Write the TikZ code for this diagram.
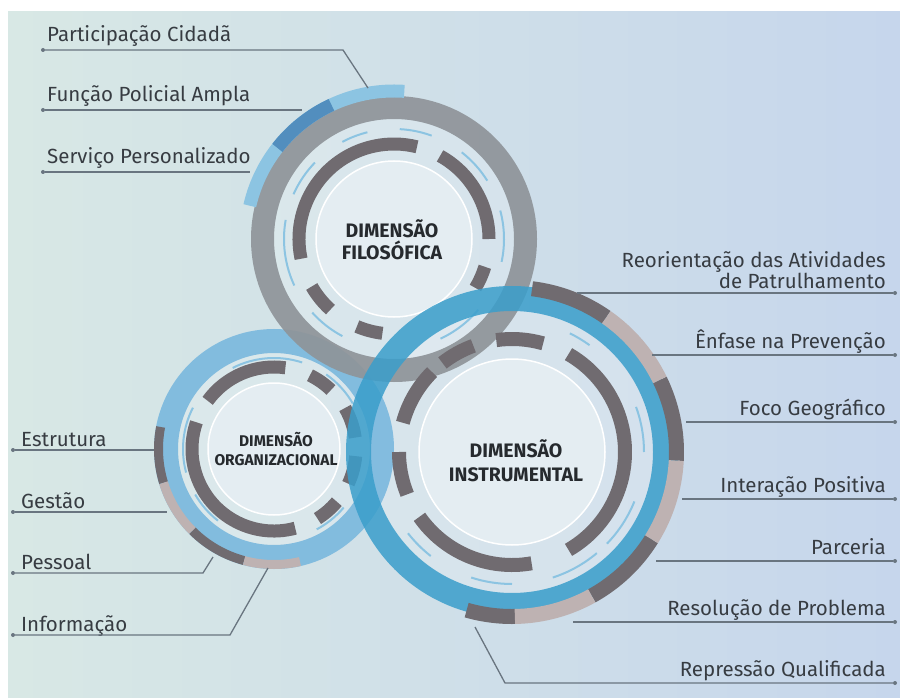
\documentclass[tikz,border=0pt]{standalone}
\usepackage{fontspec}
\setmainfont{Fira Sans}
\usetikzlibrary{positioning}

\definecolor{bgleft}{RGB}{216,232,229}
\definecolor{bgright}{RGB}{198,214,236}
\definecolor{ringgray}{RGB}{143,148,153}
\definecolor{seggray}{RGB}{112,107,112}
\definecolor{segtan}{RGB}{190,178,178}
\definecolor{orgblue}{RGB}{122,184,222}
\definecolor{insblue}{RGB}{58,158,203}
\definecolor{paleblue}{RGB}{140,196,226}
\definecolor{midblue}{RGB}{82,142,190}
\definecolor{discfill}{RGB}{228,237,242}
\definecolor{leadgray}{RGB}{105,117,128}
\definecolor{labeltext}{RGB}{55,60,66}
\definecolor{titletext}{RGB}{38,42,46}

\begin{document}
\begin{tikzpicture}[x=1pt, y=-1pt,
  lbl/.style={font=\fontsize{20.5}{21}\selectfont, text=labeltext, inner sep=0pt},
  title/.style={font=\bfseries\fontsize{19.5}{22}\selectfont, text=titletext, align=center, inner sep=0pt},
  dot/.style={circle, fill=leadgray, inner sep=0pt, minimum size=4pt},
  lead/.style={draw=leadgray, line width=1.3pt},
  disc/.style={fill=discfill, draw=white, line width=1.5pt},
  thinarc/.style={draw=paleblue, line width=2pt}]

\fill[white] (0,0) rectangle (900,698);
\shade[left color=bgleft, right color=bgright] (8,12) rectangle (900,698);
\useasboundingbox (0,0) rectangle (900,698);

\coordinate (cO) at (274,449);
\coordinate (cF) at (394,239);
\coordinate (cI) at (512,452);

\fill[white, opacity=0.18] (cO) circle[radius=96];
\fill[white, opacity=0.18] (cF) circle[radius=120];
\fill[white, opacity=0.18] (cI) circle[radius=141];
\draw[disc] (cO) circle[radius=66];
\draw[disc] (cF) circle[radius=78];
\draw[disc] (cI) circle[radius=93];

\draw[orgblue, line width=24pt, draw opacity=0.9] (cO) circle[radius=108];
\foreach \a/\b in {163/191,105/135}
  \draw[seggray, line width=9pt] (cO) ++(\a:115.5) arc[start angle=\a, end angle=\b, radius=115.5];
\foreach \a/\b in {135/163,77/105}
  \draw[segtan, line width=9pt] (cO) ++(\a:115.5) arc[start angle=\a, end angle=\b, radius=115.5];
\foreach \a/\b in {165/207,243/288,305/330,128/150,40/62}
  \draw[thinarc] (cO) ++(\a:91) arc[start angle=\a, end angle=\b, radius=91];
\foreach \a/\b in {216/278,296/314,75/199,40/58,330/352,365/385}
  \draw[seggray, line width=13pt] (cO) ++(\a:82) arc[start angle=\a, end angle=\b, radius=82];

\draw[ringgray, line width=23pt, draw opacity=0.92] (cF) circle[radius=131.5];
\draw[paleblue, line width=13pt] (cF) ++(193:148) arc[start angle=193, end angle=274, radius=148];
\draw[midblue, line width=13pt] (cF) ++(218:148) arc[start angle=218, end angle=245, radius=148];
\foreach \a/\b in {242/256,273/290,308/328,345/372,155/190,204/224,118/138,40/65}
  \draw[thinarc] (cF) ++(\a:110) arc[start angle=\a, end angle=\b, radius=110];
\foreach \a/\b in {168/284,299/360,17/31,132/150,97/113}
  \draw[seggray, line width=13pt] (cF) ++(\a:95) arc[start angle=\a, end angle=\b, radius=95];

\foreach \a/\b in {296/306,340/360,22/44,50/72,90/108,128/142}
  \draw[thinarc] (cI) ++(\a:132) arc[start angle=\a, end angle=\b, radius=132];
\foreach \a/\b in {262/286,300/420,80/145,195/225,158/180,232/250}
  \draw[seggray, line width=14pt] (cI) ++(\a:113) arc[start angle=\a, end angle=\b, radius=113];
\draw[insblue, line width=25pt, draw opacity=0.85] (cI) circle[radius=153.5];
\foreach \a/\b in {277/305,334/363,392/421,449/466}
  \draw[seggray, line width=15pt] (cI) ++(\a:164.5) arc[start angle=\a, end angle=\b, radius=164.5];
\foreach \a/\b in {305/334,363/392,421/449}
  \draw[segtan, line width=15pt] (cI) ++(\a:164.5) arc[start angle=\a, end angle=\b, radius=164.5];

\node (fil) [title] at (392,240) {DIMENSÃO\\FILOSÓFICA};
\node (org) [title, font=\bfseries\fontsize{15.5}{19}\selectfont] at (276,449) {DIMENSÃO\\ORGANIZACIONAL};
\node (ins) [title, font=\bfseries\fontsize{19.5}{24}\selectfont] at (516,461) {DIMENSÃO\\INSTRUMENTAL};

\node (dpc) [dot] at (43,50) {};
\node (dfp) [dot] at (43,110) {};
\node (dsp) [dot] at (43,172) {};
\node (pc) [lbl, above right=8pt and 4pt of dpc.center, anchor=base west] {Participação Cidadã};
\node (fp) [lbl, above right=8pt and 4pt of dfp.center, anchor=base west] {Função Policial Ampla};
\node (sp) [lbl, above right=8pt and 4pt of dsp.center, anchor=base west] {Serviço Personalizado};
\coordinate (kpc) at (343,50);
\coordinate (epc) at (368,88);
\coordinate (efp) at (302,110);
\coordinate (esp) at (250,172);
\draw[lead] (dpc) -- (kpc) -- (epc);
\draw[lead] (dfp) -- (efp);
\draw[lead] (dsp) -- (esp);

\node (dest) [dot] at (13,450) {};
\node (dges) [dot] at (13,512) {};
\node (dpes) [dot] at (13,573) {};
\node (dinf) [dot] at (13,635) {};
\node (est) [lbl, above right=4pt and 8pt of dest.center, anchor=base west] {Estrutura};
\node (ges) [lbl, above right=4pt and 8pt of dges.center, anchor=base west] {Gestão};
\node (pes) [lbl, above right=4pt and 8pt of dpes.center, anchor=base west] {Pessoal};
\node (inf) [lbl, above right=4pt and 8pt of dinf.center, anchor=base west] {Informação};
\coordinate (eest) at (154,450);
\coordinate (eges) at (167,512);
\coordinate (kpes) at (203,573);
\coordinate (epes) at (213,557);
\coordinate (kinf) at (230,635);
\coordinate (einf) at (268,568);
\draw[lead] (dest) -- (eest);
\draw[lead] (dges) -- (eges);
\draw[lead] (dpes) -- (kpes) -- (epes);
\draw[lead] (dinf) -- (kinf) -- (einf);

\node (dreo) [dot] at (895,293) {};
\node (denf) [dot] at (895,355) {};
\node (dfoc) [dot] at (895,422) {};
\node (dint) [dot] at (895,499) {};
\node (dpar) [dot] at (895,561) {};
\node (dres) [dot] at (895,622) {};
\node (drep) [dot] at (895,683) {};
\node (reo) [lbl, align=right, above left=4pt and 9pt of dreo.center, anchor=south east] {Reorientação das Atividades\\de Patrulhamento};
\node (enf) [lbl, above left=7pt and 9pt of denf.center, anchor=base east] {Ênfase na Prevenção};
\node (foc) [lbl, above left=7pt and 9pt of dfoc.center, anchor=base east] {Foco Geográfico};
\node (int) [lbl, above left=7pt and 9pt of dint.center, anchor=base east] {Interação Positiva};
\node (par) [lbl, above left=7pt and 9pt of dpar.center, anchor=base east] {Parceria};
\node (res) [lbl, above left=7pt and 9pt of dres.center, anchor=base east] {Resolução de Problema};
\node (rep) [lbl, above left=7pt and 9pt of drep.center, anchor=base east] {Repressão Qualificada};
\coordinate (ereo) at (577,293);
\coordinate (eenf) at (652,355);
\coordinate (efoc) at (686,422);
\coordinate (eint) at (682,499);
\coordinate (epar) at (656,561);
\coordinate (eres) at (573,622);
\coordinate (krep) at (505,683);
\coordinate (erep) at (475,627);
\draw[lead] (dreo) -- (ereo);
\draw[lead] (denf) -- (eenf);
\draw[lead] (dfoc) -- (efoc);
\draw[lead] (dint) -- (eint);
\draw[lead] (dpar) -- (epar);
\draw[lead] (dres) -- (eres);
\draw[lead] (drep) -- (krep) -- (erep);
\end{tikzpicture}
\end{document}
